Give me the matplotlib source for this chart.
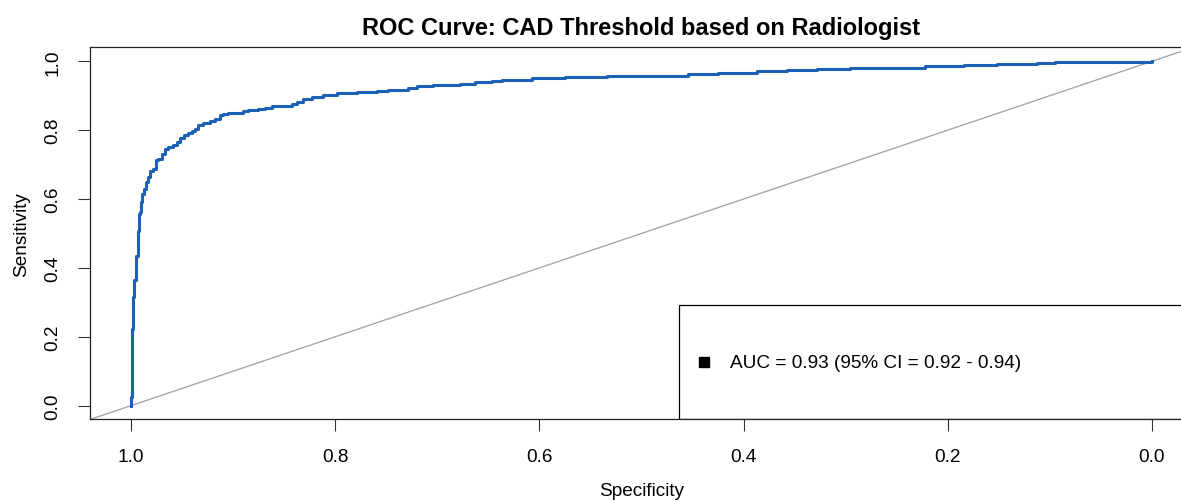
import matplotlib
matplotlib.use("Agg")
import matplotlib.pyplot as plt
from matplotlib.patches import Rectangle

plt.rcParams["font.family"] = ["Liberation Sans", "DejaVu Sans"]

# ROC curve (specificity, sensitivity)
specificity = [1.000, 1.000, 0.999, 0.998, 0.9965, 0.9948, 0.9931, 0.9919, 0.9909,
               0.9899, 0.9886, 0.9870, 0.9850, 0.9833, 0.9811, 0.9779, 0.9752, 0.9730,
               0.9696, 0.9664, 0.9638, 0.9583, 0.9549, 0.9517, 0.9475, 0.9436, 0.9403,
               0.9370, 0.9338, 0.9289, 0.9223, 0.9174, 0.9125, 0.9093, 0.9044, 0.8929,
               0.8897, 0.8848, 0.8750, 0.8685, 0.8619, 0.8423, 0.8374, 0.8310, 0.8227,
               0.8114, 0.7982, 0.7786, 0.7591, 0.7477, 0.7281, 0.7199, 0.7036, 0.6775,
               0.6628, 0.6464, 0.6366, 0.6072, 0.5746, 0.5338, 0.5093, 0.4539, 0.4245,
               0.3869, 0.3575, 0.3281, 0.2955, 0.2220, 0.1845, 0.1518, 0.1126, 0.0947,
               0.0]
sensitivity = [0.000, 0.025, 0.224, 0.317, 0.364, 0.436, 0.506, 0.556, 0.562,
               0.591, 0.615, 0.630, 0.649, 0.664, 0.680, 0.688, 0.712, 0.717,
               0.732, 0.744, 0.750, 0.756, 0.767, 0.778, 0.787, 0.793, 0.797,
               0.804, 0.816, 0.821, 0.826, 0.831, 0.843, 0.848, 0.850, 0.851,
               0.855, 0.859, 0.860, 0.865, 0.870, 0.877, 0.882, 0.891, 0.897,
               0.902, 0.907, 0.911, 0.914, 0.917, 0.923, 0.927, 0.931, 0.935,
               0.939, 0.943, 0.947, 0.950, 0.953, 0.956, 0.958, 0.962, 0.967,
               0.971, 0.974, 0.977, 0.981, 0.985, 0.988, 0.992, 0.996, 0.999,
               1.0]
ticks = [1.0, 0.8, 0.6, 0.4, 0.2, 0.0]
tick_labels = ["1.0", "0.8", "0.6", "0.4", "0.2", "0.0"]
auc_text = "AUC = 0.93 (95% CI = 0.92 - 0.94)"
title = "ROC Curve: CAD Threshold based on Radiologist"

BASE = 13.7

fig = plt.figure(figsize=(11.81, 5.02), dpi=100)
ax = fig.add_axes([0.0762, 0.1624, 0.9338, 0.741])

ax.axline((1, 0), (0, 1), color="#a0a0a0", lw=0.9, zorder=1)
ax.plot(specificity, sensitivity, drawstyle="steps-post", color="#1c61b6", lw=2.2, zorder=3)

ax.set_xlim(1.04, -0.04)
ax.set_ylim(-0.04, 1.04)
ax.set_xticks(ticks)
ax.set_xticklabels(tick_labels)
ax.set_yticks(ticks)
ax.set_yticklabels(tick_labels, rotation=90, va="center")
ax.tick_params(length=8.6, width=0.8, labelsize=BASE, pad=12, color="#333333")
for sp in ax.spines.values():
    sp.set_linewidth(0.9)
    sp.set_color("#222222")

# legend box (bottom right, like R's legend())
ax.add_patch(Rectangle((0.534, 0.0), 0.6, 0.3078, transform=ax.transAxes,
                       fill=False, edgecolor="black", lw=0.9, zorder=4))
ax.plot([0.5568], [0.1538], marker="s", ms=6.8, color="black",
        transform=ax.transAxes, zorder=5)
ax.text(0.5802, 0.1538, auc_text, transform=ax.transAxes, ha="left", va="center",
        fontsize=BASE, zorder=5)

ax.text(0.5, 1.054, title, transform=ax.transAxes, ha="center", va="center",
        fontsize=17, fontweight="bold")
ax.set_xlabel("Specificity", fontsize=BASE)
ax.xaxis.set_label_coords(0.5, -0.191)
ax.xaxis.label.set_va("center")
ax.set_ylabel("Sensitivity", fontsize=BASE)
ax.yaxis.set_label_coords(-0.0620, 0.5)
ax.yaxis.label.set_va("center")

fig.savefig("out.png", dpi=100)
